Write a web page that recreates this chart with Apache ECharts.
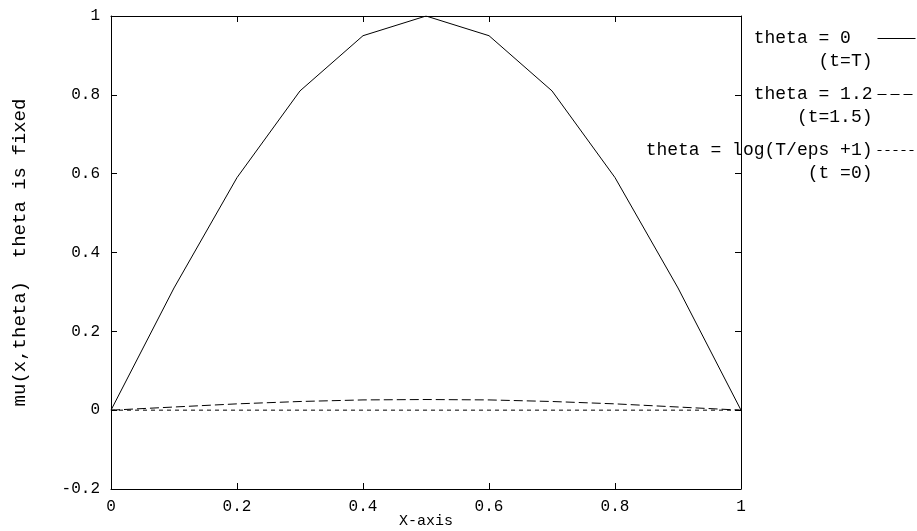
<!DOCTYPE html>
<html>
<head>
<meta charset="utf-8">
<script src="https://cdn.jsdelivr.net/npm/echarts@6/dist/echarts.min.js"></script>
<style>
  html, body { margin: 0; padding: 0; background: #fff; }
  #chart { width: 917px; height: 531px; }
</style>
</head>
<body>
<div id="chart"></div>
<script>
// x positions and curve values
const xs = [0, 0.1, 0.2, 0.3, 0.4, 0.5, 0.6, 0.7, 0.8, 0.9, 1];
const theta0 = [0, 0.31, 0.59, 0.81, 0.95, 1, 0.95, 0.81, 0.59, 0.31, 0];
const theta12 = [0, 0.008, 0.016, 0.022, 0.026, 0.027, 0.026, 0.022, 0.016, 0.008, 0];
const thetaLog = [0, 0, 0, 0, 0, 0, 0, 0, 0, 0, 0];
const seriesNames = ['\ntheta = 0  \n(t=T)', '\ntheta = 1.2\n(t=1.5)', '\ntheta = log(T/eps +1)\n(t =0)'];

const mono = 'Liberation Mono, DejaVu Sans Mono, monospace';

function pairs(vals) {
  return xs.map((x, i) => [x, vals[i]]);
}

const chart = echarts.init(document.getElementById('chart'));

const baseAxis = {
  axisLine: { show: true, onZero: false, lineStyle: { color: '#000', width: 1 } },
  axisTick: { show: true, inside: true, length: 6, lineStyle: { color: '#000' } },
  splitLine: { show: false }
};

const option = {
  animation: false,
  backgroundColor: '#fff',
  grid: { left: 111, right: 176, top: 16, bottom: 42, outerBoundsMode: 'none' },
  legend: {
    data: seriesNames,
    orient: 'vertical',
    right: -4,
    top: -1,
    align: 'right',
    itemWidth: 38,
    itemHeight: 10,
    itemGap: -13,
    selectedMode: false,
    itemStyle: { opacity: 0 },
    lineStyle: { width: 1 },
    textStyle: { fontFamily: mono, fontSize: 18, lineHeight: 23, color: '#000' }
  },
  xAxis: [
    {
      ...baseAxis,
      type: 'value',
      min: 0,
      max: 1,
      interval: 0.2,
      name: 'X-axis',
      nameLocation: 'middle',
      nameGap: 25,
      nameMoveOverlap: false,
      nameTextStyle: { fontFamily: mono, fontSize: 15, color: '#000' },
      axisLabel: { fontFamily: mono, fontSize: 16, color: '#000', margin: 10 }
    },
    {
      ...baseAxis,
      type: 'value',
      position: 'top',
      min: 0,
      max: 1,
      interval: 0.2,
      axisLabel: { show: false }
    }
  ],
  yAxis: [
    {
      ...baseAxis,
      type: 'value',
      min: -0.2,
      max: 1,
      interval: 0.2,
      name: 'mu(x,theta)  theta is fixed',
      nameLocation: 'middle',
      nameGap: 82,
      nameMoveOverlap: false,
      nameTextStyle: { fontFamily: mono, fontSize: 19, color: '#000' },
      axisLabel: { fontFamily: mono, fontSize: 16, color: '#000', margin: 11 }
    },
    {
      ...baseAxis,
      type: 'value',
      position: 'right',
      min: -0.2,
      max: 1,
      interval: 0.2,
      axisLabel: { show: false }
    }
  ],
  series: [
    {
      name: seriesNames[0],
      type: 'line',
      symbol: 'none',
      color: '#000',
      lineStyle: { color: '#000', width: 1 },
      data: pairs(theta0)
    },
    {
      name: seriesNames[1],
      type: 'line',
      symbol: 'none',
      color: '#000',
      lineStyle: { color: '#000', width: 1, type: [9, 4] },
      data: pairs(theta12)
    },
    {
      name: seriesNames[2],
      type: 'line',
      symbol: 'none',
      color: '#000',
      lineStyle: { color: '#000', width: 1, type: [4, 4] },
      data: pairs(thetaLog)
    }
  ]
};

chart.setOption(option);
</script>
</body>
</html>
